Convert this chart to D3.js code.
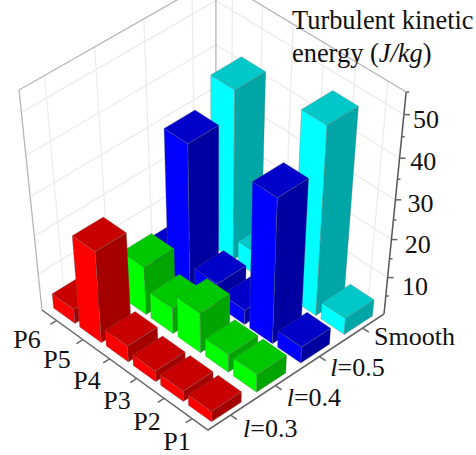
<!DOCTYPE html>
<html>
<head>
<meta charset="utf-8">
<style>
body { margin: 0; background: #fff; }
text { font-family: "Liberation Serif", "Times New Roman", serif; fill: #111; }
</style>
<script src="https://cdn.jsdelivr.net/npm/d3@7"></script>
</head>
<body>
<div id="chart"></div>
<script>
var positions = ["P1", "P2", "P3", "P4", "P5", "P6"];
var rows = ["l=0.3", "l=0.4", "l=0.5", "Smooth"];
var l03Values = [3, 3, 3, 4.5, 24.5, 4];
var l04Values = [5, 5, 11, 7, 13, 3];
var l05Values = [4.5, 38, 4, 6, 37, 3];
var smoothValues = [4.5, 48, 8, 6, 43, 4];
var zTicks = [10, 20, 30, 40, 50];
var zMinorTicks = [5, 15, 25, 35, 45, 55];
var frontColors = ["#ff0000", "#00ff00", "#0000ff", "#00ffff"];
var topColors = ["#c80000", "#00c800", "#0000c8", "#00c8c8"];
var sideColors = ["#a50000", "#00a500", "#0000a0", "#00a5a5"];
var values = [l03Values, l04Values, l05Values, smoothValues];

var width = 476, height = 455;

// corners of the box as they land on the page
var front = [208, 430], left = [42, 310], right = [384, 314], back = [216, 203];
var leftTopY = 90;
var vanish = [217, 1988];  // where the vertical edges meet

var dx1 = left[0] - back[0], dx2 = right[0] - back[0], sx = front[0] - left[0] + back[0] - right[0];
var dy1 = left[1] - back[1], dy2 = right[1] - back[1], sy = front[1] - left[1] + back[1] - right[1];
var den = dx1 * dy2 - dx2 * dy1;
var g = (sx * dy2 - dx2 * sy) / den, h = (dx1 * sy - sx * dy1) / den;
var a = left[0] - front[0] + g * left[0], b = right[0] - front[0] + h * right[0];
var d = left[1] - front[1] + g * left[1], e = right[1] - front[1] + h * right[1];
var k = (leftTopY * (g + 1) - (d + front[1])) / (vanish[1] - leftTopY);

var zScale = d3.scaleLinear().domain([0, 55]).range([0, 1]);
var uScale = d3.scaleBand().domain(positions).range([0, 1]).paddingInner(0.18).paddingOuter(0.15);
var vScale = d3.scaleBand().domain(rows).range([0, 1]).paddingInner(0.34).paddingOuter(0.17);

// label rows run straight on the page, not with the perspective
var pLabelX = d3.scalePoint().domain(positions).range([177, 27]);
var pLabelY = d3.scalePoint().domain(positions).range([450, 348]);
var rowLabelX = d3.scalePoint().domain(rows).range([243, 374]);
var rowLabelY = d3.scalePoint().domain(rows).range([437, 345]);
var zLabelX = d3.scaleLinear().domain([10, 50]).range([402, 413]);
var zLabelY = d3.scaleLinear().domain([10, 50]).range([295, 128]);

// u along P axis, v along l axis, z already 0..1
function project(u, v, z) {
    var w = g * u + h * v + 1 + k * z;
    return [(a * u + b * v + front[0] + k * z * vanish[0]) / w,
            (d * u + e * v + front[1] + k * z * vanish[1]) / w];
}

var line = d3.line();
function poly(pts) { return line(pts) + "Z"; }

var svg = d3.select("#chart").append("svg").attr("width", width).attr("height", height);

var uCenters = positions.map(function(p) { return uScale(p) + uScale.bandwidth() / 2; });
var vCenters = rows.map(function(r) { return vScale(r) + vScale.bandwidth() / 2; });

// wall grid
var grid = svg.append("g").attr("fill", "none").attr("stroke", "#ececec").attr("stroke-width", 1.3);
zTicks.forEach(function(t) {
    var z = zScale(t);
    grid.append("path").attr("d", line([project(1, 0, z), project(1, 1, z), project(0, 1, z)]));
});
uCenters.forEach(function(u) {
    grid.append("path").attr("d", line([project(u, 1, 0), project(u, 1, 1)]));
});
vCenters.forEach(function(v) {
    grid.append("path").attr("d", line([project(1, v, 0), project(1, v, 1)]));
});

// wall frame
svg.append("path")
    .attr("d", line([project(1, 0, 0), project(1, 0, 1), project(1, 1, 1), project(0, 1, 1)]))
    .attr("fill", "none").attr("stroke", "#b5b5b5").attr("stroke-width", 1.3);
svg.append("path")
    .attr("d", line([project(1, 1, 0), project(1, 1, 1)]))
    .attr("fill", "none").attr("stroke", "#b5b5b5").attr("stroke-width", 1.3);

// axes
var axes = svg.append("g").attr("fill", "none").attr("stroke", "#666").attr("stroke-width", 1.5);
axes.append("path").attr("d", line([project(1, 0, 0), project(0, 0, 0), project(0, 1, 0)]));
axes.append("path").attr("d", line([project(0, 1, 0), project(0, 1, 1)])).attr("stroke", "#555");
uCenters.forEach(function(u) {
    axes.append("path").attr("d", line([project(u, 0, 0), project(u, -0.035, 0)]));
});
vCenters.forEach(function(v) {
    axes.append("path").attr("d", line([project(0, v, 0), project(-0.035, v, 0)]));
});
zTicks.forEach(function(t) {
    var p = project(0, 1, zScale(t));
    axes.append("path").attr("d", line([p, [p[0] + 6, p[1]]]));
});
zMinorTicks.forEach(function(t) {
    var p = project(0, 1, zScale(t));
    axes.append("path").attr("d", line([p, [p[0] + 3, p[1]]]));
});

// bars, far ones first
var bars = svg.append("g").attr("stroke", "#666").attr("stroke-opacity", 0.35).attr("stroke-width", 0.8);
d3.range(rows.length - 1, -1, -1).forEach(function(r) {
    d3.range(positions.length - 1, -1, -1).forEach(function(i) {
        var u0 = uScale(positions[i]), u1 = u0 + uScale.bandwidth();
        var v0 = vScale(rows[r]), v1 = v0 + vScale.bandwidth();
        var z = zScale(values[r][i]);
        bars.append("path").attr("fill", frontColors[r])
            .attr("d", poly([project(u0, v0, 0), project(u1, v0, 0), project(u1, v0, z), project(u0, v0, z)]));
        bars.append("path").attr("fill", sideColors[r])
            .attr("d", poly([project(u0, v0, 0), project(u0, v1, 0), project(u0, v1, z), project(u0, v0, z)]));
        bars.append("path").attr("fill", topColors[r])
            .attr("d", poly([project(u0, v0, z), project(u1, v0, z), project(u1, v1, z), project(u0, v1, z)]));
    });
});

// labels
var labels = svg.append("g").attr("font-size", 26);
zTicks.forEach(function(t) {
    labels.append("text").attr("x", zLabelX(t)).attr("y", zLabelY(t)).text(t);
});
positions.forEach(function(name) {
    labels.append("text").attr("x", pLabelX(name)).attr("y", pLabelY(name)).attr("text-anchor", "middle").text(name);
});
rows.forEach(function(name) {
    var t = labels.append("text").attr("x", rowLabelX(name)).attr("y", rowLabelY(name));
    if (name.charAt(0) === "l") {
        t.append("tspan").attr("font-style", "italic").text("l");
        t.append("tspan").text(name.slice(1));
    } else {
        t.text(name);
    }
});

var title = svg.append("g").attr("font-size", 26.4);
title.append("text").attr("x", 292).attr("y", 29).text("Turbulent kinetic");
var title2 = title.append("text").attr("x", 292).attr("y", 62);
title2.append("tspan").text("energy (");
title2.append("tspan").attr("font-style", "italic").text("J/kg");
title2.append("tspan").text(")");
</script>
</body>
</html>
